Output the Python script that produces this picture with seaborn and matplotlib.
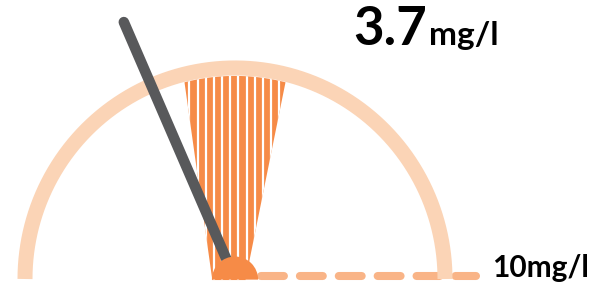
import numpy as np
import matplotlib
matplotlib.use("Agg")
import matplotlib.pyplot as plt
from matplotlib.patches import Polygon, Wedge
import seaborn as sns

# gauge data
value = 3.7
vmax = 10
unit = "mg/l"
band = [4.2, 5.8]          # highlighted range on the dial

sns.set_theme(style="white")
plt.rcParams["font.family"] = ["Lato", "DejaVu Sans"]
plt.rcParams["lines.scale_dashes"] = False

ARC = "#fbd4b6"
ORANGE = "#f68b47"
DASH = "#f9b487"
NEEDLE = "#58595b"

PX = 210.0  # pixels per gauge radius


def ang(v):
    # 0 on the left, vmax on the right
    return np.radians(180 - 180 * v / vmax)


fig = plt.figure(figsize=(5.92, 2.85), dpi=100)
ax = fig.add_axes([0, 0, 1, 1])
ax.set_xlim(-235 / PX, (592 - 235) / PX)
ax.set_ylim(-(285 - 279) / PX, 279 / PX)
ax.axis("off")

# dashed baseline from the hub to the max label
sns.lineplot(x=[0.124, 1.148], y=[0.014, 0.014], ax=ax, color=DASH, lw=5.8,
             dashes=False, zorder=1)
ax.lines[-1].set_dashes((16.5, 11.5))
ax.lines[-1].set_dash_capstyle("round")

# dial arc
t = np.linspace(np.pi, 0, 300)
sns.lineplot(x=np.cos(t), y=np.sin(t) * 1.005, sort=False, ax=ax, color=ARC,
             lw=10.8, zorder=2)
ax.lines[-1].set_solid_capstyle("butt")

# highlighted band (striped beam)
ta = np.linspace(ang(band[0]), ang(band[1]), 60)
r_in = 0.967
pts = [(-0.108, -0.005)] + list(zip(r_in * np.cos(ta), r_in * np.sin(ta))) + [(0.05, -0.005)]
beam = Polygon(pts, closed=True, facecolor=ORANGE, edgecolor="none", zorder=3)
ax.add_patch(beam)
xs = 0.016 + 0.0388 * np.arange(-9, 9)
stripes = ax.vlines(xs, -0.1, 1.2, colors="white", lw=1.6, zorder=4)
stripes.set_clip_path(beam)

# needle
a = ang(value)
r0, L = 0.06, 1.333
ax.plot([r0 * np.cos(a), L * np.cos(a)], [r0 * np.sin(a), L * np.sin(a)],
        color=NEEDLE, lw=7.6, solid_capstyle="round", zorder=5)

# hub
ax.add_patch(Wedge((0, -0.003), 0.11, 0, 180, facecolor=ORANGE, edgecolor="none", zorder=6))

# labels
ax.text(0.914, 1.114, f"{value}", ha="right", va="baseline", fontsize=38,
        fontweight="bold", color="black")
ax.text(0.922, 1.114, unit, ha="left", va="baseline", fontsize=24,
        fontweight="bold", color="black")
ax.text(1.224, 0.01, f"{vmax}{unit}", ha="left", va="baseline", fontsize=21.5,
        fontweight="bold", color="black")

fig.savefig("out.png", dpi=100)
